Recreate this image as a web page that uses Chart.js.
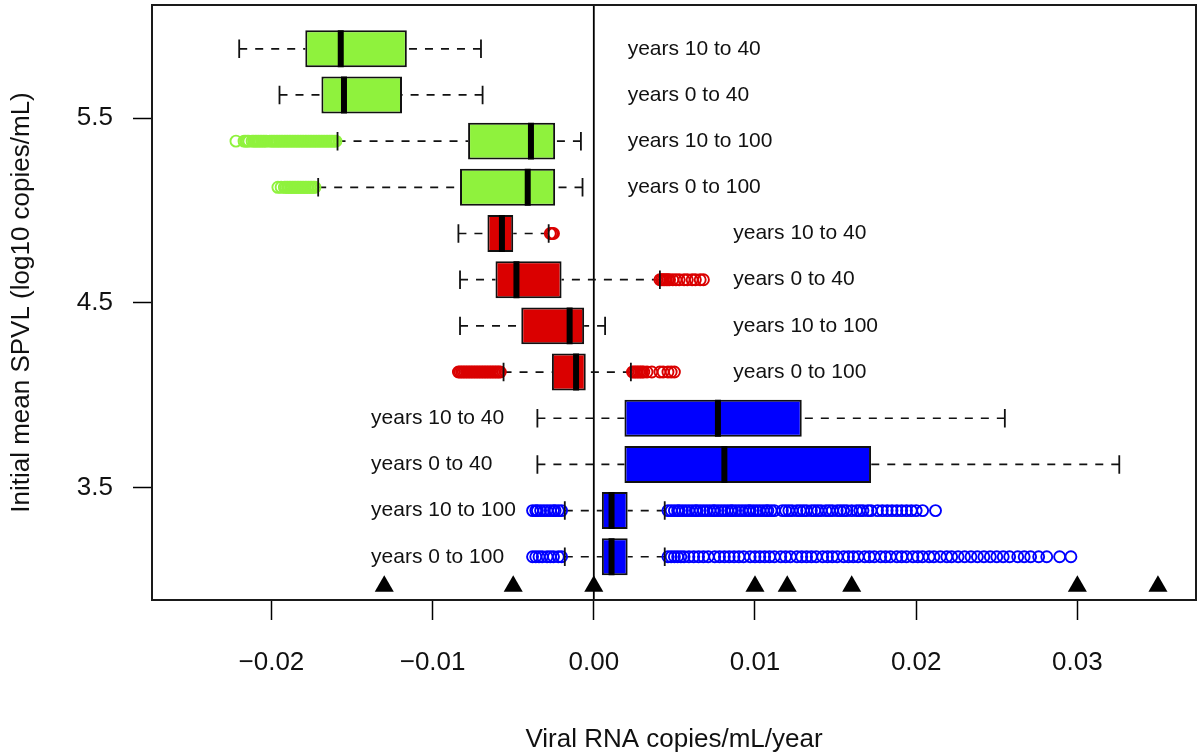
<!DOCTYPE html>
<html>
<head>
<meta charset="utf-8">
<title>Viral RNA slope by initial SPVL</title>
<script src="https://cdn.jsdelivr.net/npm/chart.js@4/dist/chart.umd.min.js"></script>
<style>
  html, body { margin: 0; padding: 0; background: #ffffff; }
  canvas { display: block; }
</style>
</head>
<body>
<canvas id="chart" width="1198" height="755"></canvas>
<script>
// ---- data -------------------------------------------------------------
const groupLabels = ['years 10 to 40', 'years 0 to 40', 'years 10 to 100', 'years 0 to 100'];

// box positions on the SPVL axis (log10 copies/mL)
const greenPositions = [5.875, 5.625, 5.375, 5.125];
const redPositions   = [4.875, 4.625, 4.375, 4.125];
const bluePositions  = [3.875, 3.625, 3.375, 3.125];

// five-number summaries: [lower whisker, Q1, median, Q3, upper whisker]
const greenStats = [
  [-0.0220, -0.0179, -0.0157, -0.0116, -0.0070],
  [-0.0195, -0.0169, -0.0155, -0.0119, -0.0069],
  [-0.0159, -0.0078, -0.0039, -0.0024, -0.0008],
  [-0.0171, -0.0083, -0.0041, -0.0024, -0.0007]
];
const redStats = [
  [-0.0084, -0.0066, -0.0057, -0.0050, -0.0028],
  [-0.0083, -0.0061, -0.0048, -0.0020,  0.0041],
  [-0.0083, -0.0045, -0.0015, -0.0006,  0.0007],
  [-0.0056, -0.0026, -0.0011, -0.0005,  0.0023]
];
const blueStats = [
  [-0.0035,  0.0019,  0.0077,  0.0129,  0.0255],
  [-0.0035,  0.0019,  0.0081,  0.0172,  0.0326],
  [-0.0018,  0.0005,  0.0011,  0.0021,  0.0044],
  [-0.0018,  0.0005,  0.0011,  0.0021,  0.0044]
];

// outlying values beyond the whiskers
const greenOutliers = [
  [],
  [],
  [-0.0222, -0.0217, -0.0216, -0.0215, -0.0214, -0.0212, -0.0211, -0.0210, -0.0209, -0.0208,
   -0.0207, -0.0206, -0.0205, -0.0204, -0.0203, -0.0201, -0.0200, -0.0199, -0.0198, -0.0197,
   -0.0196, -0.0195, -0.0194, -0.0193, -0.0192, -0.0191, -0.0190, -0.0189, -0.0188, -0.0187,
   -0.0186, -0.0185, -0.0184, -0.0183, -0.0182, -0.0181, -0.0180, -0.0179, -0.0178, -0.0177,
   -0.0176, -0.0175, -0.0174, -0.0173, -0.0172, -0.0171, -0.0170, -0.0169, -0.0168, -0.0167,
   -0.0166, -0.0165, -0.0164, -0.0163, -0.0162, -0.0161, -0.0160],
  [-0.0196, -0.0194, -0.0192, -0.0191, -0.0190, -0.0189, -0.0188, -0.0187, -0.0186, -0.0185,
   -0.0184, -0.0183, -0.0182, -0.0181, -0.0180, -0.0179, -0.0178, -0.0177, -0.0176, -0.0175,
   -0.0174, -0.0173]
];
const redOutliers = [
  [-0.0027, -0.0026, -0.0025],
  [0.0041, 0.0042, 0.0043, 0.0044, 0.0045, 0.0046, 0.0047, 0.0049, 0.0051, 0.0053, 0.0056,
   0.0058, 0.0061, 0.0063, 0.0066, 0.0068],
  [],
  [-0.0084, -0.0083, -0.0082, -0.0081, -0.0080, -0.0079, -0.0078, -0.0077, -0.0076, -0.0075,
   -0.0074, -0.0073, -0.0072, -0.0071, -0.0070, -0.0069, -0.0068, -0.0067, -0.0066, -0.0065,
   -0.0064, -0.0063, -0.0062, -0.0061, -0.0060, -0.0059, -0.0058,
    0.0024, 0.0025, 0.0026, 0.0027, 0.0028, 0.0029, 0.0030, 0.0031, 0.0033, 0.0036, 0.0041,
    0.0043, 0.0046, 0.0048, 0.0050]
];
const blueOutliers = [
  [],
  [],
  [-0.0038, -0.0036, -0.0035, -0.0033, -0.0031, -0.0029, -0.0027, -0.0025, -0.0024, -0.0022, -0.0020,
    0.0046, 0.0048, 0.0050, 0.0052, 0.0053, 0.0055, 0.0057, 0.0059, 0.0061, 0.0063, 0.0064,
    0.0066, 0.0068, 0.0070, 0.0072, 0.0074, 0.0075, 0.0077, 0.0079, 0.0081, 0.0083, 0.0085,
    0.0086, 0.0088, 0.0090, 0.0092, 0.0094, 0.0096, 0.0097, 0.0099, 0.0101, 0.0103, 0.0105,
    0.0107, 0.0108, 0.0110, 0.0112,
    0.0117, 0.0119, 0.0121, 0.0123, 0.0126, 0.0128, 0.0130, 0.0132, 0.0135, 0.0137, 0.0139,
    0.0141, 0.0144, 0.0146, 0.0148, 0.0151, 0.0153, 0.0155, 0.0157, 0.0160, 0.0163, 0.0165,
    0.0167, 0.0170, 0.0172, 0.0176, 0.0179, 0.0182, 0.0185, 0.0188, 0.0191, 0.0194, 0.0197,
    0.0200, 0.0204, 0.0212],
  [-0.0038, -0.0036, -0.0034, -0.0032, -0.0029, -0.0027, -0.0025, -0.0022, -0.0020,
    0.0046, 0.0048, 0.0050, 0.0052, 0.0054, 0.0056, 0.0059, 0.0062, 0.0065, 0.0068, 0.0071,
    0.0075, 0.0078, 0.0081, 0.0084, 0.0087, 0.0090, 0.0093, 0.0097, 0.0100, 0.0103, 0.0106,
    0.0109, 0.0112, 0.0116, 0.0119, 0.0122, 0.0126, 0.0129, 0.0132, 0.0135, 0.0138, 0.0142,
    0.0145, 0.0148, 0.0151, 0.0155, 0.0158, 0.0161, 0.0164, 0.0168, 0.0171, 0.0174, 0.0178,
    0.0181, 0.0184, 0.0188, 0.0191, 0.0194, 0.0198, 0.0201, 0.0204, 0.0208, 0.0211, 0.0215,
    0.0219, 0.0222, 0.0226, 0.0230, 0.0234, 0.0238, 0.0242, 0.0246, 0.0250, 0.0254, 0.0258,
    0.0263, 0.0267, 0.0271, 0.0276, 0.0281, 0.0289, 0.0296]
];

// reference slopes marked along the bottom of the panel
const markerValues = [-0.013, -0.005, 0.0, 0.010, 0.012, 0.016, 0.030, 0.035];
const markerLevel = 2.966;

// axis ticks
const xTickValues = [-0.02, -0.01, 0.00, 0.01, 0.02, 0.03];
const xTickLabels = ['\u22120.02', '\u22120.01', '0.00', '0.01', '0.02', '0.03'];
const yTickValues = [3.5, 4.5, 5.5];
const yTickLabels = ['3.5', '4.5', '5.5'];

// ---- styling ----------------------------------------------------------
const FONT = "'Liberation Sans', Arial, Helvetica, sans-serif";
const INK = '#111111';
const GREEN = '#8ff23d';
const RED = '#da0000';
const BLUE = '#0000ff';
const BOX_HALF = 0.1;   // half box height, axis units
const CAP_HALF = 0.05;  // half whisker-cap height, axis units

Chart.defaults.font.family = FONT;
Chart.defaults.color = INK;

function groupDatasets(stats, positions, outliers, color) {
  const whiskers = [], caps = [], medians = [], boxes = [], points = [];
  stats.forEach((s, i) => {
    const p = positions[i];
    whiskers.push({ x: s[0], y: p }, { x: s[1], y: p }, { x: null, y: p },
                  { x: s[4], y: p }, { x: s[3], y: p }, { x: null, y: p });
    caps.push({ x: s[0], y: p - CAP_HALF }, { x: s[0], y: p + CAP_HALF }, { x: null, y: p },
              { x: s[4], y: p - CAP_HALF }, { x: s[4], y: p + CAP_HALF }, { x: null, y: p });
    medians.push({ x: s[2], y: p - BOX_HALF }, { x: s[2], y: p + BOX_HALF }, { x: null, y: p });
    boxes.push({ x: [s[1], s[3]], y: p });
    outliers[i].forEach(v => points.push({ x: v, y: p }));
  });
  return [
    { type: 'line', data: whiskers, borderColor: INK, borderWidth: 1.7, borderDash: [8, 8],
      pointRadius: 0, spanGaps: false, order: 6 },
    { type: 'scatter', data: points, pointStyle: 'circle', pointRadius: 5.5,
      borderColor: color, backgroundColor: 'rgba(0,0,0,0)', borderWidth: 1.9, order: 5 },
    { type: 'bar', indexAxis: 'y', data: boxes, grouped: false,
      categoryPercentage: 1.0, barPercentage: 0.8,
      backgroundColor: color, borderColor: INK, borderWidth: 2, borderSkipped: false, order: 4 },
    { type: 'line', data: caps, borderColor: INK, borderWidth: 1.8, pointRadius: 0,
      spanGaps: false, order: 3 },
    { type: 'line', data: medians, borderColor: '#000000', borderWidth: 6, borderCapStyle: 'butt',
      pointRadius: 0, spanGaps: false, order: 2 }
  ];
}

const datasets = [
  ...groupDatasets(greenStats, greenPositions, greenOutliers, GREEN),
  ...groupDatasets(redStats, redPositions, redOutliers, RED),
  ...groupDatasets(blueStats, bluePositions, blueOutliers, BLUE),
  { type: 'scatter', data: markerValues.map(v => ({ x: v, y: markerLevel })),
    pointStyle: 'triangle', pointRadius: 11, backgroundColor: '#000000',
    borderColor: '#000000', borderWidth: 0, order: 1 }
];

// panel frame, zero reference line and group captions
const panelDecor = {
  id: 'panelDecor',
  beforeDatasetsDraw(chart) {
    const { ctx, chartArea, scales } = chart;
    const x0 = scales.x.getPixelForValue(0);
    ctx.save();
    ctx.strokeStyle = '#000000';
    ctx.lineWidth = 1.8;
    ctx.beginPath();
    ctx.moveTo(x0, chartArea.top);
    ctx.lineTo(x0, chartArea.bottom);
    ctx.stroke();
    ctx.restore();
  },
  afterDatasetsDraw(chart, args, opts) {
    const { ctx, chartArea, scales } = chart;
    ctx.save();
    ctx.font = '21px ' + FONT;
    ctx.fillStyle = INK;
    ctx.textAlign = 'left';
    ctx.textBaseline = 'middle';
    opts.groups.forEach(g => {
      const x = scales.x.getPixelForValue(g.anchor);
      g.positions.forEach((p, i) => {
        ctx.fillText(groupLabels[i], x, scales.y.getPixelForValue(p));
      });
    });
    ctx.strokeStyle = '#1a1a1a';
    ctx.lineWidth = 2;
    ctx.strokeRect(chartArea.left, chartArea.top,
                   chartArea.right - chartArea.left, chartArea.bottom - chartArea.top);
    ctx.restore();
  }
};

new Chart(document.getElementById('chart'), {
  type: 'scatter',
  data: { datasets },
  plugins: [panelDecor],
  options: {
    responsive: false,
    animation: false,
    devicePixelRatio: 1,
    events: [],
    layout: { autoPadding: false, padding: { top: 5, right: 2, bottom: 0, left: 0 } },
    plugins: {
      legend: { display: false },
      tooltip: { enabled: false },
      panelDecor: {
        groups: [
          { anchor: 0.00210, positions: greenPositions },
          { anchor: 0.00865, positions: redPositions },
          { anchor: -0.01382, positions: bluePositions }
        ]
      }
    },
    scales: {
      x: {
        type: 'linear',
        min: -0.02741,
        max: 0.03736,
        offset: false,
        afterBuildTicks: s => { s.ticks = xTickValues.map(v => ({ value: v })); },
        afterFit: s => { s.height = 155; s.paddingLeft = 0; s.paddingRight = 0; },
        border: { display: false },
        grid: { display: true, offset: false, drawOnChartArea: false, drawTicks: true,
                tickLength: 20, tickWidth: 1.5, tickColor: '#000000' },
        ticks: { padding: 27, autoSkip: false, maxRotation: 0, color: INK,
                 font: { size: 26 }, callback: (v, i) => xTickLabels[i] },
        title: { display: true, text: 'Viral RNA copies/mL/year', color: INK,
                 font: { size: 26 }, padding: { top: 0, bottom: 0 } }
      },
      y: {
        type: 'linear',
        min: 2.891,
        max: 6.112,
        offset: false,
        afterBuildTicks: s => { s.ticks = yTickValues.map(v => ({ value: v })); },
        afterFit: s => { s.width = 152; s.paddingTop = 0; s.paddingBottom = 0; },
        border: { display: false },
        grid: { display: true, offset: false, drawOnChartArea: false, drawTicks: true,
                tickLength: 19, tickWidth: 1.5, tickColor: '#000000' },
        ticks: { padding: 20, autoSkip: false, color: INK,
                 font: { size: 26 }, callback: (v, i) => yTickLabels[i] },
        title: { display: true, text: 'Initial mean SPVL (log10 copies/mL)', color: INK,
                 font: { size: 26 }, padding: { top: 6, bottom: 0 } }
      }
    }
  }
});
</script>
</body>
</html>
